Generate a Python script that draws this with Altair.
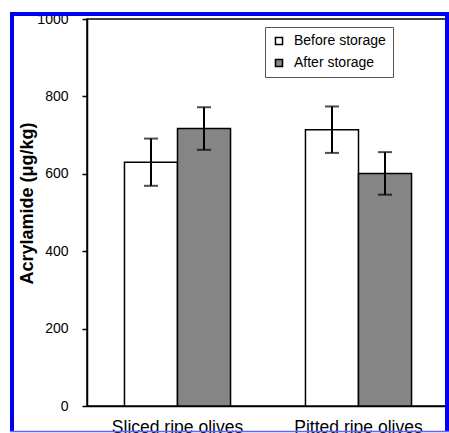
import altair as alt
import pandas as pd

categories = ["Sliced ripe olives", "Sliced ripe olives", "Pitted ripe olives", "Pitted ripe olives"]
storage = ["Before storage", "After storage", "Before storage", "After storage"]
values = [630, 717, 714, 601]
errors = [61, 55, 60, 55]

cat_order = ["Sliced ripe olives", "Pitted ripe olives"]
series_order = ["Before storage", "After storage"]

df = pd.DataFrame({"category": categories, "storage": storage, "value": values, "err": errors})

FONT = "Liberation Sans"

x_enc = alt.X("category:N", sort=cat_order,
              scale=alt.Scale(paddingInner=0.414, paddingOuter=0.207),
              axis=alt.Axis(title=None, labelAngle=0, ticks=False, labelFontSize=17.5,
                            labelPadding=12, labelColor="black", labelFont=FONT,
                            domainColor="black", domainWidth=1.5))
xoff = alt.XOffset("storage:N", sort=series_order, scale=alt.Scale(paddingInner=0, paddingOuter=0))

y_scale = alt.Scale(domain=[0, 1000], nice=False)

base = alt.Chart(df)

bars = base.mark_bar(stroke="black", strokeWidth=1.5).encode(
    x=x_enc,
    xOffset=xoff,
    y=alt.Y("value:Q", scale=y_scale,
            axis=alt.Axis(title="Acrylamide (μg/kg)", values=[0, 200, 400, 600, 800, 1000],
                          format="d",
                          grid=False, tickSize=5, tickColor="black", tickWidth=1.5,
                          domainColor="black", domainWidth=1.5,
                          labelFontSize=14, labelFont=FONT, labelColor="black", labelPadding=14,
                          titleFontSize=18, titleFont=FONT, titleFontWeight="bold",
                          titleColor="black", titleX=-60, titleY=184,
                          titleBaseline="middle")),
    fill=alt.Fill("storage:N", sort=series_order,
                  scale=alt.Scale(domain=series_order, range=["#ffffff", "#858585"]),
                  legend=alt.Legend(title=None, orient="none", legendX=178, legendY=8,
                                    symbolType="square", symbolSize=50,
                                    symbolStrokeColor="black", symbolStrokeWidth=1.5,
                                    labelFontSize=14, labelFont=FONT, labelColor="black",
                                    labelOffset=8, rowPadding=8, padding=7,
                                    strokeColor="#555555", fillColor="white")),
)

errs = base.transform_calculate(
    lo="datum.value - datum.err", hi="datum.value + datum.err"
)

err_rule = errs.mark_rule(color="black", strokeWidth=2).encode(
    x=alt.X("category:N", sort=cat_order), xOffset=xoff,
    y=alt.Y("lo:Q", scale=y_scale), y2="hi:Q",
)
cap_hi = errs.mark_tick(color="black", thickness=2, size=14, orient="horizontal").encode(
    x=alt.X("category:N", sort=cat_order), xOffset=xoff, y=alt.Y("hi:Q", scale=y_scale),
)
cap_lo = errs.mark_tick(color="black", thickness=2, size=14, orient="horizontal").encode(
    x=alt.X("category:N", sort=cat_order), xOffset=xoff, y=alt.Y("lo:Q", scale=y_scale),
)

# decorative blue picture frame
frame_data = alt.Data(values=[{}])
blue = "#0000f0"
frame_left = alt.Chart(frame_data).mark_rule(color=blue, strokeWidth=4).encode(
    x=alt.value(-75), y=alt.value(-7), y2=alt.value(413))
frame_top = alt.Chart(frame_data).mark_rule(color=blue, strokeWidth=4).encode(
    x=alt.value(-77), x2=alt.value(362), y=alt.value(-5))
frame_right = alt.Chart(frame_data).mark_rule(color=blue, strokeWidth=4).encode(
    x=alt.value(360), y=alt.value(-7), y2=alt.value(413))
frame_bottom = alt.Chart(frame_data).mark_rule(color="#6666ff", strokeWidth=1.5).encode(
    x=alt.value(-77), x2=alt.value(362), y=alt.value(412.5))

chart = alt.layer(bars, err_rule, cap_hi, cap_lo,
                  frame_left, frame_top, frame_right, frame_bottom).properties(
    width=362, height=387,
    autosize=alt.AutoSizeParams(type="none"),
    padding={"left": 87, "top": 19, "right": 0, "bottom": 27},
    background="white",
).configure_view(stroke="black", strokeWidth=1.5)

chart.save("out.html", embed_options={"renderer": "svg", "actions": False})
